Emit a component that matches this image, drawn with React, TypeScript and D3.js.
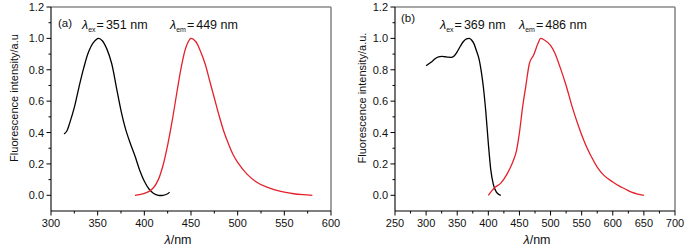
import React from "react";
import * as d3 from "d3";

// ---- Data ----
const exAWl = [314, 317, 320, 325, 330, 335, 340, 345, 351, 355, 360, 365, 370, 375, 380, 385, 390, 395, 400, 405, 410, 415, 420, 425, 427];
const exAInt = [0.39, 0.41, 0.46, 0.56, 0.69, 0.81, 0.91, 0.97, 1.0, 0.985, 0.93, 0.84, 0.69, 0.54, 0.42, 0.33, 0.25, 0.16, 0.09, 0.04, 0.012, 0.0, 0.0, 0.01, 0.02];

const emAWl = [390, 395, 400, 405, 410, 415, 420, 425, 430, 435, 440, 445, 450, 455, 460, 465, 470, 475, 480, 485, 490, 495, 500, 510, 520, 530, 540, 550, 560, 570, 580];
const emAInt = [0.0, 0.005, 0.012, 0.025, 0.05, 0.1, 0.19, 0.32, 0.48, 0.66, 0.83, 0.95, 1.0, 0.98, 0.92, 0.84, 0.73, 0.62, 0.51, 0.41, 0.33, 0.26, 0.21, 0.135, 0.085, 0.055, 0.035, 0.02, 0.01, 0.004, 0.0];

const exBWl = [300, 305, 310, 315, 320, 325, 330, 335, 340, 345, 350, 355, 360, 365, 369, 373, 377, 381, 385, 389, 392, 396, 400, 404, 408, 413, 417, 420];
const exBInt = [0.825, 0.84, 0.855, 0.872, 0.882, 0.885, 0.883, 0.88, 0.879, 0.888, 0.915, 0.95, 0.98, 0.997, 1.0, 0.99, 0.965, 0.92, 0.87, 0.78, 0.69, 0.53, 0.33, 0.16, 0.07, 0.02, 0.005, 0.0];

const emBWl = [400, 410, 420, 430, 440, 445, 450, 455, 460, 466, 473, 480, 484, 490, 500, 507, 515, 525, 535, 545, 555, 565, 575, 585, 600, 610, 620, 630, 640, 650];
const emBInt = [0.0, 0.048, 0.078, 0.135, 0.22, 0.28, 0.4, 0.56, 0.69, 0.84, 0.895, 0.97, 1.0, 0.99, 0.955, 0.905, 0.82, 0.7, 0.56, 0.44, 0.335, 0.25, 0.18, 0.13, 0.085, 0.06, 0.04, 0.02, 0.008, 0.0];

const xTicksA = [300, 350, 400, 450, 500, 550, 600];
const xTicksB = [250, 300, 350, 400, 450, 500, 550, 600, 650, 700];
const yTicks = [0.0, 0.2, 0.4, 0.6, 0.8, 1.0, 1.2];
const yMinorTicks = [0.1, 0.3, 0.5, 0.7, 0.9, 1.1];

const FONT = "'Liberation Sans', Arial, Helvetica, sans-serif";
const RED = "#e3222b";

type Series = { wl: number[]; v: number[]; color: string };

type PanelProps = {
  x0: number;
  x1: number;
  xDomain: [number, number];
  xTicks: number[];
  series: Series[];
  curve: d3.CurveFactory;
  letter: string;
  letterX: number;
  letterY: number;
  yTitle: string;
  yTitleX: number;
  xTitleX: number;
  exLabel: { x: number; y: number; nm: string };
  emLabel: { x: number; y: number; nm: string };
};

function Label({ x, y, sub, nm }: { x: number; y: number; sub: string; nm: string }) {
  return (
    <text x={x} y={y} fontFamily={FONT} fontSize={12.5} fill="#111">
      <tspan fontStyle="italic">λ</tspan>
      <tspan fontSize={7} dy={3}>{sub}</tspan>
      <tspan dy={-3} dx={1}>=</tspan>
      <tspan dx={2}>{nm}</tspan>
    </text>
  );
}

function Panel(p: PanelProps) {
  const yTop = 7;
  const yBot = 211;
  const x = d3.scaleLinear().domain(p.xDomain).range([p.x0, p.x1]);
  const y = d3.scaleLinear().domain([-0.1, 1.2]).range([yBot, yTop]);
  const line = d3
    .line<[number, number]>()
    .x((d) => x(d[0]))
    .y((d) => y(d[1]))
    .curve(p.curve);
  const step = p.xTicks[1] - p.xTicks[0];
  const xMinor = p.xTicks.slice(0, -1).map((t) => t + step / 2);
  return (
    <g>
      {p.series.map((s, i) => (
        <path
          key={i}
          d={line(s.wl.map((w, j) => [w, s.v[j]] as [number, number])) || ""}
          fill="none"
          stroke={s.color}
          strokeWidth={1.3}
        />
      ))}
      <line x1={p.x0} x2={p.x1} y1={yTop} y2={yTop} stroke="#8a8a8a" strokeWidth={1.6} />
      <line x1={p.x1} x2={p.x1} y1={yTop} y2={yBot} stroke="#8a8a8a" strokeWidth={1.6} />
      <line x1={p.x0} x2={p.x0} y1={yTop} y2={yBot} stroke="#000" strokeWidth={1.1} />
      <line x1={p.x0} x2={p.x1} y1={yBot} y2={yBot} stroke="#000" strokeWidth={1.1} />
      {yTicks.map((t) => (
        <g key={"y" + t}>
          <line x1={p.x0 - 4.5} x2={p.x0} y1={y(t)} y2={y(t)} stroke="#000" strokeWidth={1} />
          <text x={p.x0 - 7} y={y(t) + 4} textAnchor="end" fontFamily={FONT} fontSize={11} fill="#111">
            {t.toFixed(1)}
          </text>
        </g>
      ))}
      {yMinorTicks.map((t) => (
        <line key={"ym" + t} x1={p.x0 - 2.5} x2={p.x0} y1={y(t)} y2={y(t)} stroke="#000" strokeWidth={1} />
      ))}
      {p.xTicks.map((t) => (
        <g key={"x" + t}>
          <line x1={x(t)} x2={x(t)} y1={yBot} y2={yBot + 4.5} stroke="#000" strokeWidth={1} />
          <text x={x(t)} y={yBot + 16} textAnchor="middle" fontFamily={FONT} fontSize={11} fill="#111">
            {t}
          </text>
        </g>
      ))}
      {xMinor.map((t) => (
        <line key={"xm" + t} x1={x(t)} x2={x(t)} y1={yBot} y2={yBot + 2.5} stroke="#000" strokeWidth={1} />
      ))}
      <text x={p.xTitleX} y={244} textAnchor="middle" fontFamily={FONT} fontSize={12.5} fill="#111">
        <tspan fontStyle="italic">λ</tspan>
        <tspan>/nm</tspan>
      </text>
      <text
        transform={`translate(${p.yTitleX},${(yTop + yBot) / 2 - 11}) rotate(-90)`}
        textAnchor="middle"
        fontFamily={FONT}
        fontSize={11}
        fill="#111"
      >
        {p.yTitle}
      </text>
      <text x={p.letterX} y={p.letterY} fontFamily={FONT} fontSize={11.5} fill="#111">
        {p.letter}
      </text>
      <Label x={p.exLabel.x} y={p.exLabel.y} sub="ex" nm={p.exLabel.nm} />
      <Label x={p.emLabel.x} y={p.emLabel.y} sub="em" nm={p.emLabel.nm} />
    </g>
  );
}

export default function App() {
  return (
    <svg
      width={697}
      height={248}
      viewBox="0 0 697 248"
      style={{ position: "absolute", left: 0, top: 0, background: "#fff" }}
    >
      <rect width={697} height={248} fill="#fff" />
      <Panel
        x0={51}
        x1={331}
        xDomain={[300, 600]}
        xTicks={xTicksA}
        series={[
          { wl: exAWl, v: exAInt, color: "#000" },
          { wl: emAWl, v: emAInt, color: RED },
        ]}
        curve={d3.curveCatmullRom}
        letter="(a)"
        letterX={58}
        letterY={27}
        yTitle="Fluorescence intensity/a.u"
        yTitleX={18}
        xTitleX={178}
        exLabel={{ x: 82, y: 29, nm: "351 nm" }}
        emLabel={{ x: 170, y: 29, nm: "449 nm" }}
      />
      <Panel
        x0={395}
        x1={675}
        xDomain={[250, 700]}
        xTicks={xTicksB}
        series={[
          { wl: exBWl, v: exBInt, color: "#000" },
          { wl: emBWl, v: emBInt, color: RED },
        ]}
        curve={d3.curveMonotoneX}
        letter="(b)"
        letterX={401}
        letterY={22}
        yTitle="Fluorescence intensity/a.u."
        yTitleX={366}
        xTitleX={537}
        exLabel={{ x: 440, y: 29, nm: "369 nm" }}
        emLabel={{ x: 519, y: 29, nm: "486 nm" }}
      />
    </svg>
  );
}
